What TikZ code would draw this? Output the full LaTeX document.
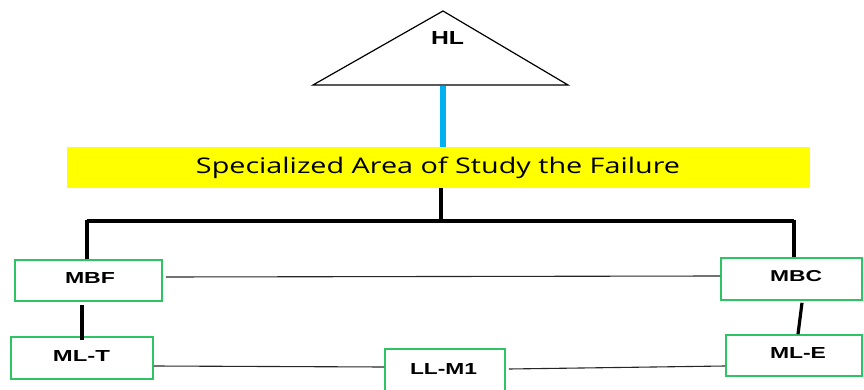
\documentclass[tikz,border=0pt]{standalone}
\usepackage{fontspec}
\usepackage{graphicx}
\setmainfont{Liberation Sans}
\newfontfamily\bannerfont{Open Sans}
\definecolor{boxgreen}{RGB}{46,196,100}
\definecolor{linkblue}{RGB}{0,176,240}
\definecolor{banner}{RGB}{255,255,0}
\tikzset{
  unit/.style={draw=boxgreen, line width=1.6pt, fill=white, inner sep=0pt},
  tag/.style={inner sep=0pt, anchor=center},
  trunk/.style={line width=3.2pt, line cap=butt},
  link/.style={line width=1.1pt, color=black!85},
}
% bold label stretched to a given width and cap height
\newcommand\lbl[3]{\resizebox{#1}{#2}{\bfseries #3}}
\begin{document}
\begin{tikzpicture}[x=1pt,y=-1pt]
\useasboundingbox (0,0) rectangle (864,390);

% top level triangle
\draw[line width=1.2pt, line join=miter] (443,11) -- (568,85) -- (313,85) -- cycle;
\node[tag] (hl) at (447.5,38.5) {\lbl{33pt}{13pt}{HL}};
\coordinate (tribase) at (443,86);

% banner
\node[fill=banner, minimum width=743pt, minimum height=41pt, inner sep=0pt] (area) at (438.5,167.5) {};
\node[tag] (areatext) at (438,167.5) {\resizebox{484pt}{16.5pt}{\bannerfont Specialized Area of Study the Failure}};

% boxes
\node[unit, minimum width=147pt, minimum height=41pt] (mbf) at (88.5,280.5) {};
\node[unit, minimum width=142pt, minimum height=42pt] (mlt) at (82,358) {};
\node[unit, minimum width=141pt, minimum height=42pt] (mbc) at (791.5,279) {};
\node[unit, minimum width=136pt, minimum height=41pt] (mle) at (794,355.5) {};
\node[unit, minimum width=120pt, minimum height=44pt] (llm) at (445,371) {};

\node[tag] at (90,277.5) {\lbl{50pt}{11pt}{MBF}};
\node[tag] at (81.5,355.5) {\lbl{57pt}{11pt}{ML-T}};
\node[tag] at (796,276.5) {\lbl{52pt}{11pt}{MBC}};
\node[tag] at (798,352.5) {\lbl{56pt}{11pt}{ML-E}};
\node[tag] at (443.5,368.5) {\lbl{67pt}{11pt}{LL-M1}};

% connectors
\draw[linkblue, line width=6.5pt] (tribase) -- (area.north -| tribase);

\coordinate (junction) at (441,221);
\coordinate (leftcorner) at (87,221);
\coordinate (rightcorner) at (794,221);
\draw[trunk] (area.south -| junction) -- ([yshift=-1.5pt]junction);
\draw[trunk] (leftcorner) -- (rightcorner);
\draw[trunk] ([yshift=1.5pt]leftcorner) -- (leftcorner |- mbf.north);
\draw[trunk] ([yshift=1.5pt]rightcorner) -- (rightcorner |- mbc.north);

\draw[trunk] ([yshift=-3pt]mbf.south -| 82,0) -- ([yshift=-4pt]mlt.north -| 82,0);
\draw[trunk] ([yshift=-2pt]mbc.south -| 802,0) -- (mle.north -| 798,0);

\draw[link] ([xshift=3pt,yshift=3.5pt]mbf.east) -- ([yshift=3pt]mbc.west);
\draw[link] ([yshift=-8pt]mlt.east) -- ([yshift=4pt]llm.west);
\draw[link] ([xshift=3pt,yshift=2pt]llm.east) -- ([yshift=-10.5pt]mle.west);
\end{tikzpicture}
\end{document}
